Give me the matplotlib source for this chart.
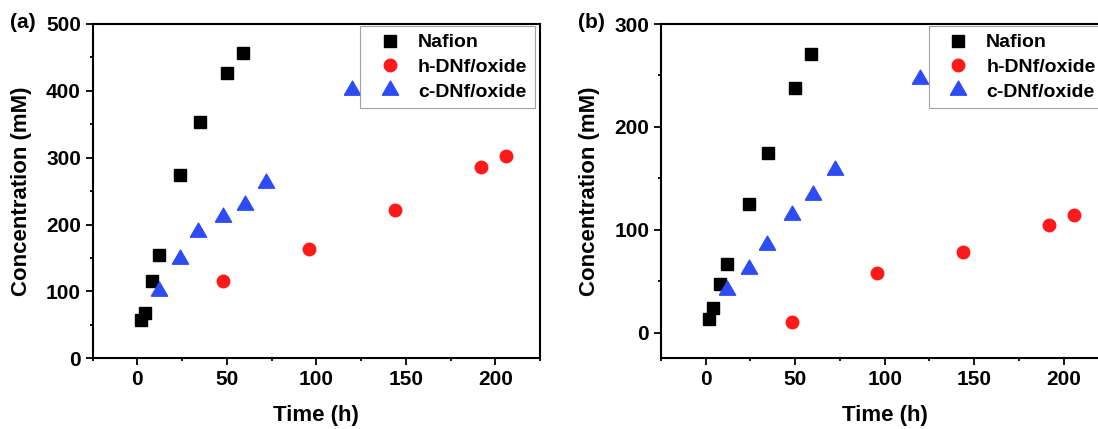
import matplotlib as mpl
mpl.use('Agg')
import matplotlib.pyplot as plt
from matplotlib.ticker import MultipleLocator

plt.rcParams['font.family'] = ['Liberation Sans', 'DejaVu Sans']
plt.rcParams['font.weight'] = 'bold'

# panel (a)
a_naf_t = [2, 4, 8, 12, 24, 35, 50, 59]
a_naf_c = [57, 68, 115, 155, 274, 353, 426, 457]
a_h_t = [48, 96, 144, 192, 206]
a_h_c = [115, 163, 222, 286, 303]
a_c_t = [12, 24, 34, 48, 60, 72, 120]
a_c_c = [100, 149, 189, 212, 229, 262, 401]

# panel (b)
b_naf_t = [2, 4, 8, 12, 24, 35, 50, 59]
b_naf_c = [13, 24, 47, 67, 125, 175, 238, 271]
b_h_t = [48, 96, 144, 192, 206]
b_h_c = [10, 58, 78, 105, 114]
b_c_t = [12, 24, 34, 48, 60, 72, 120]
b_c_c = [41, 62, 85, 114, 134, 158, 247]

x_ticks = [0, 50, 100, 150, 200]

# equilateral triangle, centroid at origin (Origin style)
tri = [(-1, -0.577), (1, -0.577), (0, 1.155), (-1, -0.577)]

W, H = 1098, 429
fig = plt.figure(figsize=(W / 100, H / 100), dpi=100)

def make_panel(rect, tag, naf, hd, cd, ylim):
    ax = fig.add_axes(rect)
    ax.plot(naf[0], naf[1], 's', color='black', markersize=8.2, label='Nafion')
    ax.plot(hd[0], hd[1], 'o', color='#ff1a1a', markersize=9, label='h-DNf/oxide')
    ax.plot(cd[0], cd[1], marker=tri, ls='none', color='#2d4cf5',
            markersize=13.5, label='c-DNf/oxide')
    ax.set_xlim(-25, 225)
    ax.set_ylim(*ylim)
    ax.set_xticks(x_ticks)
    ax.xaxis.set_minor_locator(MultipleLocator(25))
    ax.yaxis.set_major_locator(MultipleLocator(100))
    ax.yaxis.set_minor_locator(MultipleLocator(50))
    ax.tick_params(which='both', direction='out', top=False, right=False,
                   labelsize=15, width=1.3)
    ax.tick_params(which='major', length=5)
    ax.tick_params(which='minor', length=2.5)
    for lab in ax.get_xticklabels() + ax.get_yticklabels():
        lab.set_fontweight('bold')
    for s in ax.spines.values():
        s.set_linewidth(1.5)
    w_px = rect[2] * W
    h_px = rect[3] * H
    xl = ax.set_xlabel('Time (h)', fontsize=16, fontweight='bold')
    xl.set_va('center')
    ax.xaxis.set_label_coords(0.5, -57 / h_px)
    yl = ax.set_ylabel('Concentration (mM)', fontsize=16, fontweight='bold')
    yl.set_va('center')
    ax.yaxis.set_label_coords(-71 / w_px, 0.5)
    leg = ax.legend(loc='upper right', fontsize=14, frameon=True, fancybox=False,
                    edgecolor='#8a8a8a', borderpad=0.4, handlelength=2.2,
                    handletextpad=0.35, labelspacing=0.36, borderaxespad=0,
                    bbox_to_anchor=(1 - 5 / w_px, 1 - 2 / h_px))
    leg.get_frame().set_linewidth(0.8)
    for t in leg.get_texts():
        t.set_fontweight('bold')
    ax.text(-83 / w_px, 1 + 1 / h_px, tag, transform=ax.transAxes, fontsize=15,
            fontweight='bold', va='center', ha='left')
    return ax

bot = (H - 358.3) / H
hgt = 334.3 / H
make_panel([92.7 / W, bot, 447.3 / W, hgt], '(a)',
           (a_naf_t, a_naf_c), (a_h_t, a_h_c), (a_c_t, a_c_c), (0, 500))
make_panel([661 / W, bot, 447.3 / W, hgt], '(b)',
           (b_naf_t, b_naf_c), (b_h_t, b_h_c), (b_c_t, b_c_c), (-25, 300))

fig.savefig('out.png', dpi=100)
